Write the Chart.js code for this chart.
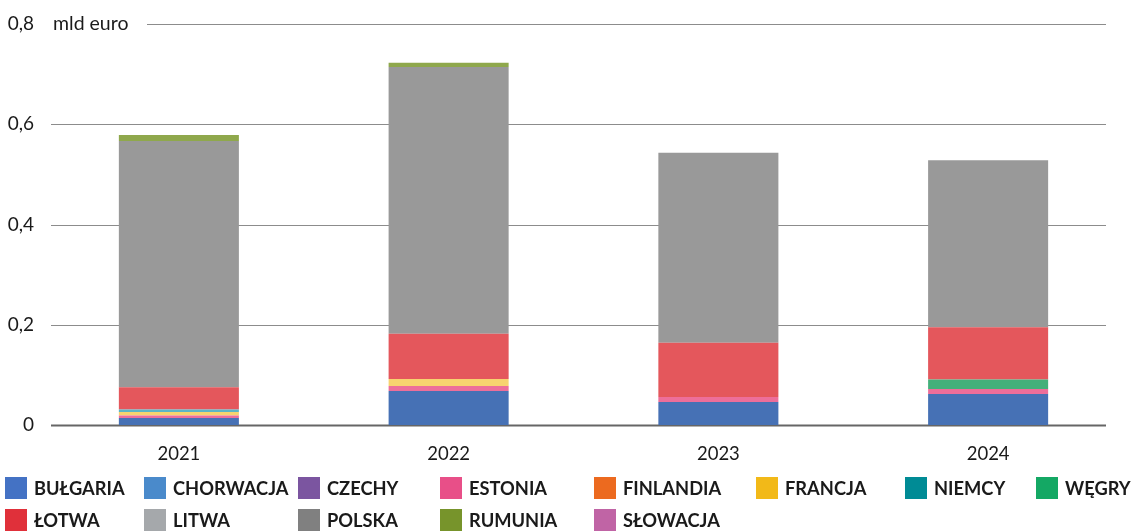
<!DOCTYPE html>
<html>
<head>
<meta charset="utf-8">
<script src="https://cdn.jsdelivr.net/npm/chart.js@4.4.1/dist/chart.umd.min.js"></script>
<style>
  body { margin: 0; background: #fff; }
  #wrap { position: relative; width: 1131px; height: 531px; overflow: hidden; }
  #legend { position: absolute; left: 0; top: 0; width: 1131px; height: 531px; pointer-events: none; }
  .item { position: absolute; display: flex; align-items: center; font-family: Lato, sans-serif; font-weight: bold; font-size: 18.3px; color: #1a1a1a; white-space: nowrap; }
  .box { width: 22px; height: 22px; margin-right: 7px; }
</style>
</head>
<body>
<div id="wrap">
  <canvas id="chart" width="1131" height="470"></canvas>
  <div id="legend"></div>
</div>
<script>
var years = ['2021', '2022', '2023', '2024'];
var countries = ['BUŁGARIA', 'CHORWACJA', 'CZECHY', 'ESTONIA', 'FINLANDIA', 'FRANCJA', 'NIEMCY', 'WĘGRY',
                 'ŁOTWA', 'LITWA', 'POLSKA', 'RUMUNIA', 'SŁOWACJA'];

// mld euro
var bulgaria  = [0.014, 0.068, 0.046, 0.062];
var chorwacja = [0, 0, 0, 0];
var czechy    = [0, 0, 0, 0];
var estonia   = [0.005, 0.010, 0.010, 0.010];
var finlandia = [0, 0, 0, 0];
var francja   = [0.007, 0.014, 0, 0];
var niemcy    = [0.005, 0, 0, 0];
var wegry     = [0, 0, 0, 0.019];
var lotwa     = [0.0445, 0.090, 0.108, 0.104];
var litwa     = [0, 0, 0, 0];
var polska    = [0.491, 0.532, 0.379, 0.333];
var rumunia   = [0.012, 0.0086, 0, 0];
var slowacja  = [0, 0, 0, 0];

var yTicks = [0, 0.2, 0.4, 0.6, 0.8];

var series = [bulgaria, chorwacja, czechy, estonia, finlandia, francja, niemcy, wegry,
              lotwa, litwa, polska, rumunia, slowacja];
var barColors = ['#4671b5', '#4a8acb', '#7b55a0', '#ed6e9a', '#ec6a1f', '#f7d36f', '#5bb5c6', '#43b07a',
                 '#e4575c', '#a5a8ab', '#999999', '#8fa84c', '#c064a5'];
var legendColors = ['#4472c4', '#4a8acb', '#7b55a0', '#e84f88', '#ec6a1f', '#f2b918', '#008b95', '#14a864',
                    '#e0303a', '#a5a8ab', '#808080', '#77942b', '#c064a5'];

var datasets = [];
for (var i = 0; i < countries.length; i++) {
  datasets.push({
    label: countries[i],
    data: series[i],
    backgroundColor: barColors[i],
    borderWidth: 0,
    barPercentage: 0.445,
    categoryPercentage: 1
  });
}

// horizontal grid lines (they stop short of the plot edge) + unit label
var gridAndUnit = {
  id: 'gridAndUnit',
  beforeDatasetsDraw: function (chart) {
    var y = chart.scales.y;
    var ctx = chart.ctx;
    ctx.save();
    yTicks.forEach(function (v) {
      var py = Math.round(y.getPixelForValue(v)) + 0.5;
      ctx.beginPath();
      ctx.strokeStyle = v === 0 ? '#666' : '#8c8c8c';
      ctx.lineWidth = v === 0 ? 2 : 1.2;
      ctx.moveTo(v === 0.8 ? 147 : 51, py);
      ctx.lineTo(1106, py);
      ctx.stroke();
    });
    ctx.fillStyle = '#1a1a1a';
    ctx.font = '19.5px Lato, sans-serif';
    ctx.textBaseline = 'middle';
    ctx.fillText('mld euro', 53, y.getPixelForValue(0.8));
    ctx.restore();
  }
};

new Chart(document.getElementById('chart'), {
  type: 'bar',
  data: { labels: years, datasets: datasets },
  options: {
    responsive: false,
    animation: false,
    layout: { padding: { top: 24, right: 8, left: 0, bottom: 0 } },
    plugins: { legend: { display: false }, tooltip: { enabled: false } },
    scales: {
      x: {
        stacked: true,
        grid: { display: false },
        border: { display: false },
        ticks: { color: '#1a1a1a', font: { family: 'Lato', size: 18.5 }, padding: 10 },
        afterFit: function (s) { s.height = 45; }
      },
      y: {
        stacked: true,
        min: 0, max: 0.8,
        afterBuildTicks: function (s) { s.ticks = yTicks.map(function (v) { return { value: v }; }); },
        afterFit: function (s) { s.width = 44; },
        grid: { display: false },
        border: { display: false },
        ticks: {
          color: '#1a1a1a',
          font: { family: 'Lato', size: 19 },
          padding: 2,
          callback: function (v) { return v === 0 ? '0' : String(v.toFixed(1)).replace('.', ','); }
        }
      }
    }
  },
  plugins: [gridAndUnit]
});

// grid legend below the chart
var colX = [5, 144, 298, 440, 594, 756, 905, 1036];
var rowY = [477, 509];
var lg = document.getElementById('legend');
countries.forEach(function (name, i) {
  var el = document.createElement('div');
  el.className = 'item';
  el.style.left = colX[i % 8] + 'px';
  el.style.top = rowY[Math.floor(i / 8)] + 'px';
  el.innerHTML = '<span class="box" style="background:' + legendColors[i] + '"></span>' + name;
  lg.appendChild(el);
});
</script>
</body>
</html>
